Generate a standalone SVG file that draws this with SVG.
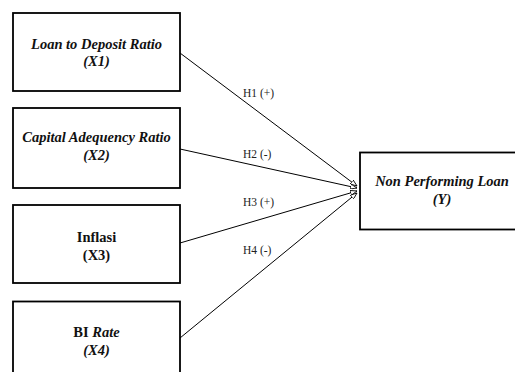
<svg xmlns="http://www.w3.org/2000/svg" width="515" height="372" viewBox="0 0 515 372">
<defs>
<style>
.box{fill:#fff;stroke:#000;stroke-width:1.8}
.t{font-family:"Liberation Serif","Times New Roman",serif;font-size:14.5px;font-weight:700;font-style:italic;text-anchor:middle;fill:#111}
.n{font-style:normal}
.lbl{font-family:"Liberation Serif","Times New Roman",serif;font-size:11.5px;fill:#222}
.ln{stroke:#000;stroke-width:1;fill:none;marker-end:url(#ah)}
</style>
<marker id="ah" viewBox="0 0 8 6" refX="8" refY="3" markerWidth="7" markerHeight="5" markerUnits="userSpaceOnUse" orient="auto">
<path d="M0,0 L8,3 L0,6 Z" fill="#fff" stroke="#000" stroke-width="1"/>
</marker>
</defs>
<rect width="515" height="372" fill="#fff"/>
<g id="connectors">
<line class="ln" x1="180" y1="53" x2="357" y2="186"/>
<line class="ln" x1="180" y1="149" x2="357" y2="188"/>
<line class="ln" x1="180" y1="243" x2="357" y2="191"/>
<line class="ln" x1="180" y1="338" x2="357" y2="193"/>
<text class="lbl" x="243" y="97">H1 (+)</text>
<text class="lbl" x="243" y="158">H2 (-)</text>
<text class="lbl" x="243" y="206">H3 (+)</text>
<text class="lbl" x="243" y="254">H4 (-)</text>
</g>
<g id="x1">
<rect class="box" x="13" y="13" width="167" height="78"/>
<text class="t" x="96.5" y="49">Loan to Deposit Ratio</text>
<text class="t" x="96.5" y="66">(X1)</text>
</g>
<g id="x2">
<rect class="box" x="13" y="108" width="167" height="80"/>
<text class="t" x="96.5" y="142">Capital Adequency Ratio</text>
<text class="t" x="96.5" y="160">(X2)</text>
</g>
<g id="x3">
<rect class="box" x="13" y="205" width="167" height="78"/>
<text class="t n" x="96.5" y="242">Inflasi</text>
<text class="t n" x="96.5" y="260">(X3)</text>
</g>
<g id="x4">
<rect class="box" x="13" y="301.5" width="167" height="90"/>
<text class="t" x="96.5" y="337"><tspan class="n">BI </tspan>Rate</text>
<text class="t" x="96.5" y="355">(X4)</text>
</g>
<g id="y">
<rect class="box" x="360" y="152.5" width="170" height="77"/>
<text class="t" x="442" y="186">Non Performing Loan</text>
<text class="t" x="442" y="204">(Y)</text>
</g>
</svg>
